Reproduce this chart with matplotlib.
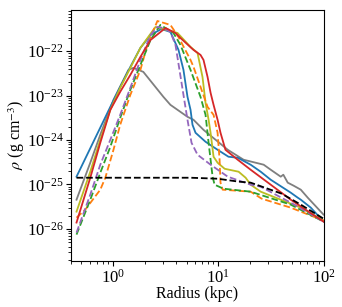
import matplotlib
matplotlib.use("Agg")
import matplotlib.pyplot as plt

plt.rcParams['font.family'] = 'serif'
plt.rcParams['font.serif'] = ['Liberation Serif', 'DejaVu Serif']
plt.rcParams['mathtext.fontset'] = 'stix'

# radius (kpc) and density (g cm^-3)
r_blue = [0.45, 0.943, 1.17, 1.46, 1.82, 2.27, 2.88, 3.51, 4.19, 4.67, 5.10, 5.45, 5.69, 6.08,
          7.57, 9.85, 12.5, 15.3, 20.3, 25.3, 31.5, 48.8, 56.9, 60.8, 75.7, 100]
rho_blue = [1.50e-25, 5.60e-24, 1.58e-23, 4.44e-23, 1.19e-22, 2.32e-22, 3.17e-22, 2.72e-22,
            1.07e-22, 3.80e-23, 9.40e-24, 4.80e-24, 2.21e-24, 1.46e-24, 9.16e-25, 6.05e-25,
            4.22e-25, 4.00e-25, 2.79e-25, 1.94e-25, 1.28e-25, 6.55e-26, 5.05e-26, 4.55e-26,
            3.01e-26, 1.46e-26]

r_orange = [0.45, 0.545, 0.757, 0.845, 1.01, 1.17, 1.46, 1.82, 2.12, 2.64, 3.51, 4.19, 5.45,
            5.82, 6.78, 7.91, 9.02, 9.85, 10.29, 10.5, 11.0, 20.3, 25.8, 48.8, 100]
rho_orange = [1.79e-26, 2.72e-26, 7.64e-26, 1.42e-25, 6.05e-25, 2.21e-24, 1.04e-23, 3.80e-23,
              1.39e-22, 4.80e-22, 3.92e-22, 2.09e-22, 6.37e-23, 4.44e-23, 1.58e-23, 5.60e-24,
              3.70e-24, 1.46e-24, 3.61e-25, 1.10e-25, 7.64e-26, 6.89e-26, 4.80e-26, 3.01e-26,
              1.54e-26]

r_green = [0.45, 0.608, 0.757, 0.943, 1.17, 1.46, 1.82, 2.27, 2.82, 3.75, 4.37, 5.45, 6.78,
           7.57, 8.09, 8.83, 9.22, 11.2, 20.3, 48.8, 100]
rho_green = [7.45e-27, 4.55e-26, 1.84e-25, 7.07e-25, 3.17e-24, 1.35e-23, 4.92e-23, 1.79e-22,
             3.92e-22, 2.58e-22, 1.39e-22, 3.80e-23, 9.40e-24, 3.70e-24, 8.69e-25, 1.50e-25,
             9.90e-26, 8.05e-26, 6.89e-26, 3.52e-26, 1.46e-26]

r_red = [0.45, 0.608, 0.757, 0.943, 1.17, 1.46, 1.82, 2.27, 3.15, 3.92, 4.37, 5.82, 6.78, 7.24,
         7.91, 8.45, 9.02, 9.85, 10.5, 11.7, 15.3, 20.3, 31.5, 48.8, 100]
rho_red = [1.39e-26, 1.42e-25, 8.69e-25, 4.80e-24, 1.22e-23, 2.93e-23, 7.45e-23, 1.79e-22,
           3.34e-22, 2.58e-22, 1.99e-22, 1.07e-22, 8.26e-23, 6.37e-23, 2.64e-23, 1.16e-23,
           6.21e-24, 2.86e-24, 1.46e-24, 6.05e-25, 3.61e-25, 2.15e-25, 9.90e-26, 4.55e-26,
           1.46e-26]

r_purple = [0.45, 0.608, 0.757, 0.943, 1.17, 1.46, 1.82, 2.27, 2.64, 3.01, 3.51, 3.92, 4.28,
            4.67, 5.10, 5.57, 6.35, 8.45, 12.3, 20.3, 25.3, 48.8, 100]
rho_purple = [8.26e-27, 5.90e-26, 2.79e-25, 1.02e-24, 3.70e-24, 1.50e-23, 6.37e-23, 2.32e-22,
              3.52e-22, 3.34e-22, 2.72e-22, 1.39e-22, 3.80e-23, 1.04e-23, 2.86e-24, 8.69e-25,
              4.68e-25, 2.79e-25, 1.50e-25, 9.90e-26, 8.93e-26, 3.90e-26, 1.46e-26]

r_gray = [0.45, 0.608, 0.757, 1.01, 1.23, 1.40, 1.56, 1.94, 3.01, 3.51, 5.10, 5.82, 7.24, 12.3,
          17.4, 27.0, 31.5, 39.2, 41.5, 45.7, 52.0, 60.8, 70.8, 100]
rho_gray = [4.55e-26, 3.09e-25, 1.32e-24, 8.05e-24, 2.04e-23, 3.80e-23, 4.22e-23, 3.43e-23,
            9.40e-24, 6.21e-24, 3.34e-24, 2.86e-24, 1.70e-24, 6.05e-25, 3.61e-25, 2.79e-25,
            2.15e-25, 1.50e-25, 1.66e-25, 1.10e-25, 9.40e-26, 7.64e-26, 5.05e-26, 2.10e-26]

r_olive = [0.45, 0.608, 0.757, 0.943, 1.17, 1.46, 1.82, 2.53, 4.10, 5.45, 6.35, 7.08, 7.57,
           8.09, 8.45, 9.02, 9.85, 11.5, 15.6, 18.2, 20.3, 25.3, 39.2, 60.8, 100]
rho_olive = [2.45e-26, 1.94e-25, 1.02e-24, 4.80e-24, 1.50e-23, 4.22e-23, 1.19e-22, 3.52e-22,
             2.58e-22, 1.25e-22, 9.16e-23, 2.64e-23, 6.89e-24, 2.86e-24, 1.46e-24, 4.22e-25,
             3.09e-25, 2.26e-25, 1.94e-25, 1.42e-25, 9.90e-26, 6.89e-26, 4.55e-26, 3.01e-26,
             1.54e-26]

r_black = [0.45, 2.27, 5.45, 9.85, 15.6, 20.3, 40.1, 60.8, 100]
rho_black = [1.42e-25, 1.42e-25, 1.42e-25, 1.35e-25, 1.16e-25, 1.10e-25, 6.21e-26, 3.52e-26,
             1.70e-26]

fig = plt.figure(figsize=(3.42, 3.07), dpi=100)
ax = fig.add_axes([0.208, 0.15, 0.738, 0.819])

lw = 1.3
ax.plot(r_gray, rho_gray, color='tab:gray', lw=lw)
ax.plot(r_blue, rho_blue, color='tab:blue', lw=lw)
ax.plot(r_olive, rho_olive, color='tab:olive', lw=lw)
ax.plot(r_orange, rho_orange, color='tab:orange', lw=lw, ls='--')
ax.plot(r_green, rho_green, color='tab:green', lw=lw, ls='--')
ax.plot(r_purple, rho_purple, color='tab:purple', lw=lw, ls='--')
ax.plot(r_red, rho_red, color='tab:red', lw=lw)
ax.plot(r_black, rho_black, color='k', lw=lw, ls='--')

ax.set_xscale('log')
ax.set_yscale('log')
ax.set_xlim(0.4, 100)
ax.set_ylim(1.9e-27, 8.7e-22)
ax.set_xlabel('Radius (kpc)', fontsize=11.5, labelpad=0)
ax.set_ylabel(r'$\rho$ (g cm$^{-3}$)', fontsize=11.5, labelpad=0)
ax.tick_params(labelsize=12, pad=2)

fig.savefig('out.png', dpi=100)
